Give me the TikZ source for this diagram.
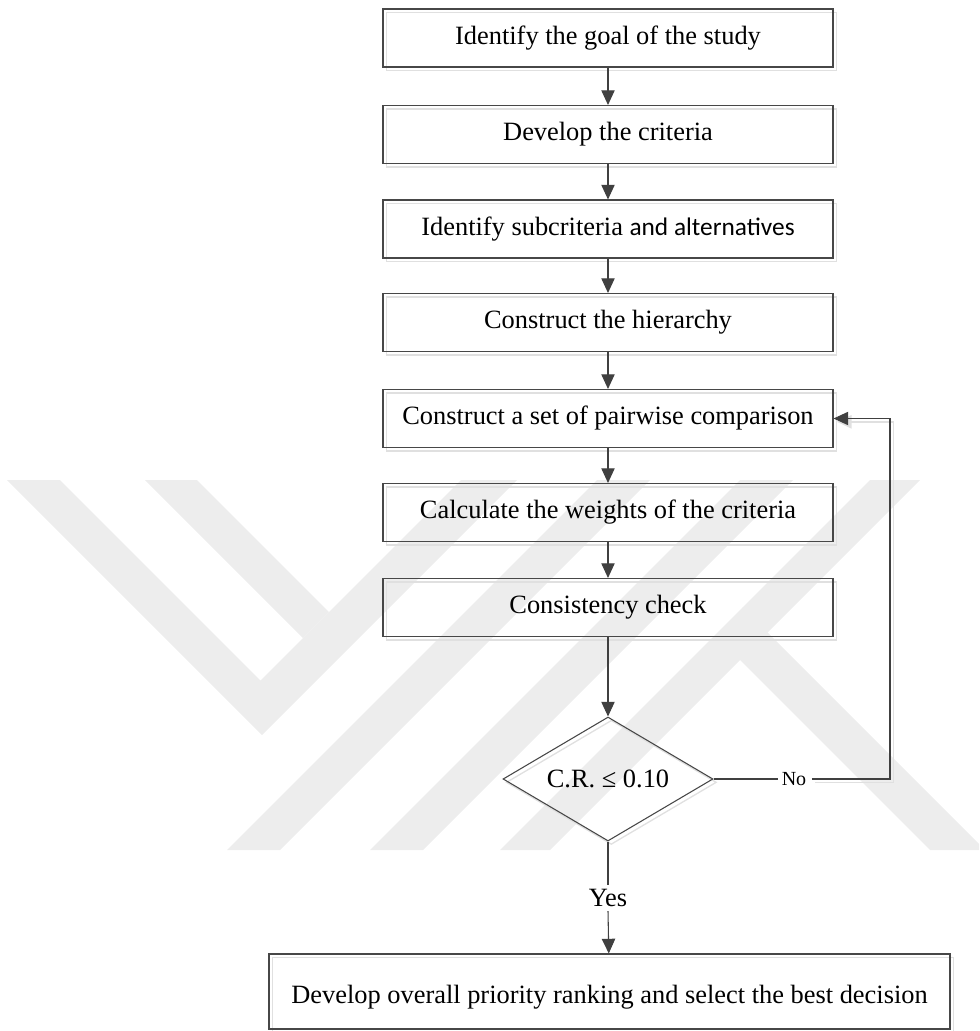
\documentclass[tikz,border=0pt]{standalone}
\usepackage{fontspec}
\setmainfont{Liberation Serif}
\newfontfamily\altsans{Carlito}
\usetikzlibrary{arrows.meta,shapes.geometric}

\tikzset{
  shade copy/.style={preaction={draw=black!12, line width=1pt,
      transform canvas={shift={(2.5pt,-2.5pt)}}}},
  stepbox/.style={draw=black!72, line width=0.8pt, minimum width=337.5pt,
      minimum height=43.5pt, inner sep=0pt,
      font=\fontsize{19.8}{22}\selectfont, shade copy},
  endbox/.style={stepbox, minimum width=510.75pt, minimum height=56.25pt,
      text height=17.25pt, text depth=0pt},
  decision/.style={diamond, aspect=1.7, draw=black!72, line width=0.8pt,
      minimum width=157.5pt, minimum height=93pt, inner sep=0pt,
      font=\fontsize{19.8}{22}\selectfont, shade copy},
  answer/.style={inner sep=0pt, font=\fontsize{19.8}{22}\selectfont},
  flow/.style={draw=black!75, line width=0.8pt,
      -{Triangle[length=11pt,width=10pt]}},
  plain/.style={draw=black!75, line width=0.8pt},
  wmark/.style={fill=black!7, draw=none},
}

\begin{document}
\begin{tikzpicture}[x=0.75pt, y=-0.75pt]
\useasboundingbox (0,0) rectangle (979,1031);

% background emblem
\begin{scope}
  \clip (0,480) rectangle (979,850);
  \fill[wmark] (7,480) -- (262,735) -- (517,480) -- (461,480) -- (260.5,680.5) -- (60,480) -- cycle;
  \fill[wmark] (145,480) -- (303,638) -- (329,612) -- (197,480) -- cycle;
  \fill[wmark] (597,480) -- (650,480) -- (280,850) -- (227,850) -- cycle;
  \fill[wmark] (740,480) -- (793,480) -- (423,850) -- (370,850) -- cycle;
  \fill[wmark] (870,480) -- (920,480) -- (550,850) -- (500,850) -- cycle;
  \fill[wmark] (742.5,607.5) -- (985,850) -- (930,850) -- (740,660) -- cycle;
\end{scope}

% process steps
\node[stepbox] (b1) at (608,38)    {Identify the goal of the study};
\node[stepbox] (b2) at (608,134.5) {Develop the criteria};
\node[stepbox] (b3) at (608,229)   {Identify subcriteria {\altsans\fontsize{19}{21}\selectfont and alternatives}};
\node[stepbox] (b4) at (608,322.5) {Construct the hierarchy};
\node[stepbox] (b5) at (608,418.5) {Construct a set of pairwise comparison};
\node[stepbox] (b6) at (608,512.5) {Calculate the weights of the criteria};
\node[stepbox] (b7) at (608,607.5) {Consistency check};

% consistency test
\node[decision] (dec) at (608,779) {C.R. ≤ 0.10};
\node[answer, font=\fontsize{15}{17}\selectfont] (no) at (794,779) {No};
\node[answer] (yes) at (608,898) {Yes};
\coordinate (loopx) at (890,0);

% final step
\node[endbox] (fin) at (609.5,991.5) {Develop overall priority ranking and select the best decision};

% connectors
\draw[flow] (b1) -- (b2);
\draw[flow] (b2) -- (b3);
\draw[flow] (b3) -- (b4);
\draw[flow] (b4) -- (b5);
\draw[flow] (b5) -- (b6);
\draw[flow] (b6) -- (b7);
\draw[flow] (b7) -- (dec);
\draw[plain] (dec.east) -- ([xshift=-3pt]no.west);
\draw[flow, shade copy] ([xshift=4pt]no.east) -- (no.east -| loopx) -- (loopx |- b5.east) -- (b5.east);
\draw[plain] (dec.south) -- ([yshift=3pt]yes.north);
\draw[flow] ([yshift=-3pt]yes.south) -- (fin);
\end{tikzpicture}
\end{document}
